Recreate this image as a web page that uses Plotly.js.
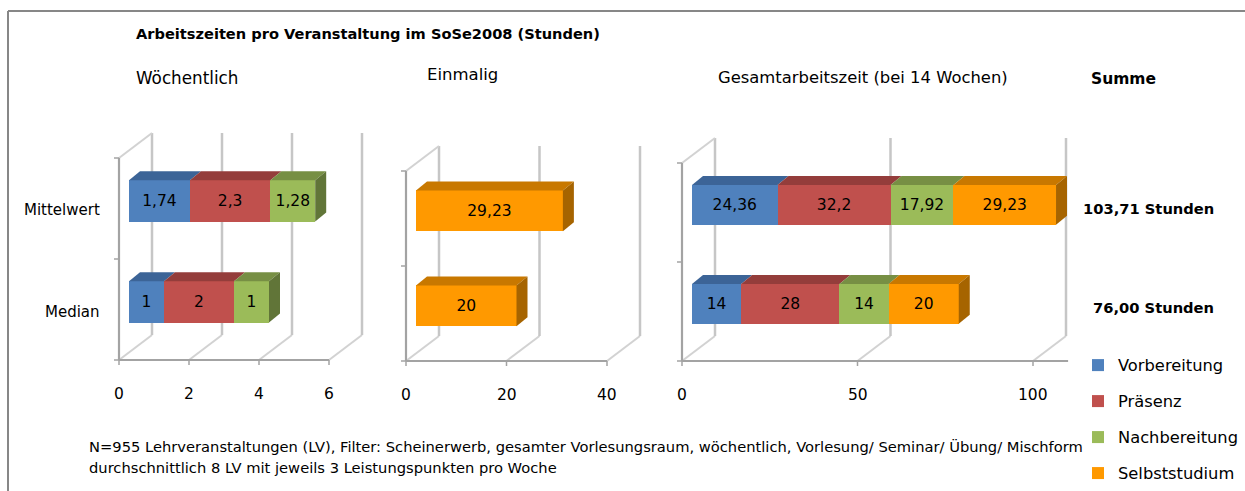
<!DOCTYPE html>
<html><head><meta charset="utf-8">
<script src="https://cdn.plot.ly/plotly-3.0.1.min.js"></script>
<style>
html,body{margin:0;padding:0;background:#fff;width:1245px;height:491px;overflow:hidden}
#chart{width:1245px;height:491px;overflow:hidden}
</style>
</head><body><div id="chart"></div>
<script>
// ---------- data ----------
const rowNames = ['Median', 'Mittelwert'];   // y positions 0, 1
const rowPos = [0, 1];
const seriesNames = ['Vorbereitung', 'Präsenz', 'Nachbereitung', 'Selbststudium'];
const seriesColors = ['#4F81BD', '#C0504D', '#9BBB59', '#FF9900'];
const seriesTop = ['#3C6497', '#943D3B', '#778F44', '#C87800'];
const seriesSide = ['#30507A', '#7A3230', '#617538', '#A66400'];
// Wöchentlich  [Median, Mittelwert]
const weeklyVorbereitung = [1, 1.74];
const weeklyPraesenz = [2, 2.3];
const weeklyNachbereitung = [1, 1.28];
// Einmalig
const einmaligSelbststudium = [20, 29.23];
// Gesamtarbeitszeit (bei 14 Wochen)
const totalVorbereitung = [14, 24.36];
const totalPraesenz = [28, 32.2];
const totalNachbereitung = [14, 17.92];
const totalSelbststudium = [20, 29.23];
const sumLabels = ['76,00 Stunden', '103,71 Stunden'];
const ticksWeekly = [0, 2, 4, 6];
const ticksOnce = [0, 20, 40];
const ticksTotal = [0, 50, 100];

// ---------- layout geometry ----------
const W = 1245, H = 491;
const FONT = '"DejaVu Sans", "Open Sans", sans-serif';
const F = {x: -10, y: 7.6};   // front plane offset from bar plane (px)
const B = {x: 23, y: -17.4};  // back plane offset
const D = {x: 11, y: -9};     // bar depth
const PAD = 8;
const panels = [
  {xa: 'x', ya: 'y', x0: 129, s: 35.0, xmax: 6, ticks: ticksWeekly, yTop: 150.4, yBot: 352.4, bw: 0.41,
   series: [[0, weeklyVorbereitung], [1, weeklyPraesenz], [2, weeklyNachbereitung]]},
  {xa: 'x2', ya: 'y2', x0: 416, s: 5.025, xmax: 40, ticks: ticksOnce, yTop: 163.4, yBot: 353.4, bw: 0.43,
   series: [[3, einmaligSelbststudium]]},
  {xa: 'x3', ya: 'y3', x0: 692, s: 3.51, xmax: 110, ticks: ticksTotal, yTop: 155.4, yBot: 353.4, bw: 0.40,
   series: [[0, totalVorbereitung], [1, totalPraesenz], [2, totalNachbereitung], [3, totalSelbststudium]]}
];

const fmt = v => String(v).replace('.', ',');
const data = [];
const shapes = [];
const annotations = [];
const layout = {
  width: W, height: H, margin: {l: 0, r: 0, t: 0, b: 0}, autosize: false,
  paper_bgcolor: '#fff', plot_bgcolor: 'rgba(0,0,0,0)',
  barmode: 'stack', bargap: 0,
  font: {family: FONT, color: '#000', size: 15},
  showlegend: true,
  legend: {x: 1078 / W, xanchor: 'left', y: 1 - 348 / H, yanchor: 'top',
           font: {family: FONT, size: 16.3, color: '#000'}, tracegroupgap: 11.8,
           traceorder: 'grouped', bgcolor: 'rgba(0,0,0,0)', itemwidth: 30},
  shapes: shapes, annotations: annotations
};

// panel 3 first so the legend comes from it
const order = [2, 0, 1];
order.forEach(pi => {
  const p = panels[pi];
  p.cs = (p.yBot - p.yTop) / 2;
  const left = p.x0 + F.x - PAD, right = p.x0 + p.xmax * p.s + B.x + PAD;
  const top = p.yTop + B.y - PAD, bottom = p.yBot + F.y + PAD;
  const xr = [(left - p.x0) / p.s, (right - p.x0) / p.s];
  const yr = [-0.5 - (bottom - p.yBot) / p.cs, -0.5 + (p.yBot - top) / p.cs];
  const axn = p.xa.slice(1);
  layout['xaxis' + axn] = {domain: [left / W, right / W], range: xr, anchor: p.ya,
    showgrid: false, zeroline: false, showticklabels: false, showline: false, ticks: '', fixedrange: true};
  layout['yaxis' + axn] = {domain: [1 - bottom / H, 1 - top / H], range: yr, anchor: p.xa,
    showgrid: false, zeroline: false, showticklabels: false, showline: false, ticks: '', fixedrange: true};

  const P = (xv, yv, off) => [xv + off.x / p.s, yv - off.y / p.cs];
  const line = (a, b, color, width, layer) => shapes.push({type: 'line', xref: p.xa, yref: p.ya,
    x0: a[0], y0: a[1], x1: b[0], y1: b[1], line: {color: color, width: width}, layer: layer || 'below'});
  const poly = (pts, color) => shapes.push({type: 'path', xref: p.xa, yref: p.ya,
    path: 'M' + pts.map(q => q[0] + ',' + q[1]).join('L') + 'Z', fillcolor: color, line: {width: 0}, layer: 'above'});

  const LIGHT = '#D2D2D2', BACK = '#C6C6C6', FRONT = '#A3A3A3';
  // back wall gridlines and floor diagonals
  p.ticks.forEach(t => {
    line(P(t, -0.5, F), P(t, -0.5, B), LIGHT, 2);
    line(P(t, -0.5, B), P(t, 1.5, B), BACK, 2.5);
  });
  // top-left diagonal
  line(P(0, 1.5, F), P(0, 1.5, B), LIGHT, 2);
  // front left wall line and floor
  line(P(0, -0.5, F), P(0, 1.5, F), FRONT, 2.2);
  line(P(0, -0.5, F), P(p.xmax, -0.5, F), FRONT, 2.2);
  [-0.5, 0.5, 1.5].forEach(yv => {
    const a = P(0, yv, F);
    line(a, [a[0] - 5 / p.s, a[1]], FRONT, 1.5);
  });
  p.ticks.forEach(t => {
    const a = P(t, -0.5, F);
    line(a, [a[0], a[1] - 5 / p.cs], FRONT, 1.5);
    annotations.push({xref: p.xa, yref: p.ya, x: t, y: -0.5, xshift: F.x, yshift: -(F.y + 34),
      xanchor: 'center', yanchor: 'middle', showarrow: false, text: String(t),
      font: {family: FONT, size: 15.5, color: '#000'}});
  });

  // bars
  const base = [0, 0];
  const h = p.bw / 2;
  p.series.forEach(([si, vals], k) => {
    data.push({type: 'bar', orientation: 'h', x: vals, y: rowPos, xaxis: p.xa, yaxis: p.ya,
      width: p.bw, name: seriesNames[si], legendgroup: seriesNames[si], showlegend: pi === 2,
      marker: {color: seriesColors[si], line: {width: 0}},
      text: vals.map(fmt), textposition: 'inside', insidetextanchor: 'middle', textangle: 0,
      constraintext: 'none', textfont: {family: FONT, size: 15.5, color: '#000'}, hoverinfo: 'none'});
    vals.forEach((v, r) => {
      const c = rowPos[r], b0 = base[r], b1 = b0 + v;
      const dx = D.x / p.s, dy = -D.y / p.cs;
      poly([[b0, c + h], [b1, c + h], [b1 + dx, c + h + dy], [b0 + dx, c + h + dy]], seriesTop[si]);
      if (k === p.series.length - 1) {
        poly([[b1, c - h], [b1, c + h], [b1 + dx, c + h + dy], [b1 + dx, c - h + dy]], seriesSide[si]);
      }
      base[r] = b1;
    });
  });

  if (pi === 0) {
    rowNames.forEach((nm, r) => annotations.push({xref: p.xa, yref: p.ya, x: 0, y: rowPos[r],
      xshift: -27, yshift: -F.y - 2, xanchor: 'right', yanchor: 'middle', showarrow: false, text: nm,
      font: {family: FONT, size: 15, color: '#000'}}));
  }
  if (pi === 2) {
    sumLabels.forEach((s, r) => annotations.push({xref: 'paper', yref: p.ya, x: 1216 / W, y: rowPos[r],
      yshift: -4, xanchor: 'right', yanchor: 'middle', showarrow: false, text: '<b>' + s + '</b>',
      font: {family: FONT, size: 14.7, color: '#000'}}));
  }
});

// text annotations in paper coordinates
const txt = (text, x, y, size, anchor) => annotations.push({xref: 'paper', yref: 'paper',
  x: x / W, y: 1 - y / H, xanchor: anchor || 'left', yanchor: 'middle', showarrow: false, text: text,
  font: {family: FONT, size: size, color: '#000'}});
txt('<b>Arbeitszeiten pro Veranstaltung im SoSe2008 (Stunden)</b>', 134, 34, 14.6);
txt('Wöchentlich', 134, 78, 16.8);
txt('Einmalig', 425, 75, 16.5);
txt('Gesamtarbeitszeit (bei 14 Wochen)', 716, 78, 16.4);
txt('<b>Summe</b>', 1089, 79, 15.5);
txt('N=955 Lehrveranstaltungen (LV), Filter: Scheinerwerb, gesamter Vorlesungsraum, wöchentlich, Vorlesung/ Seminar/ Übung/ Mischform', 87, 446, 14.7);
txt('durchschnittlich 8 LV mit jeweils 3 Leistungspunkten pro Woche', 87, 467, 14.7);

// chart border (top and left edges are visible in the picture)
shapes.push({type: 'line', xref: 'paper', yref: 'paper', x0: 8 / W, x1: 1, y0: 1 - 11 / H, y1: 1 - 11 / H,
  line: {color: '#878787', width: 2}, layer: 'below'});
shapes.push({type: 'line', xref: 'paper', yref: 'paper', x0: 8 / W, x1: 8 / W, y0: 0, y1: 1 - 11 / H,
  line: {color: '#878787', width: 2}, layer: 'below'});

Plotly.newPlot('chart', data, layout, {displayModeBar: false, staticPlot: true});
</script>
</body></html>
